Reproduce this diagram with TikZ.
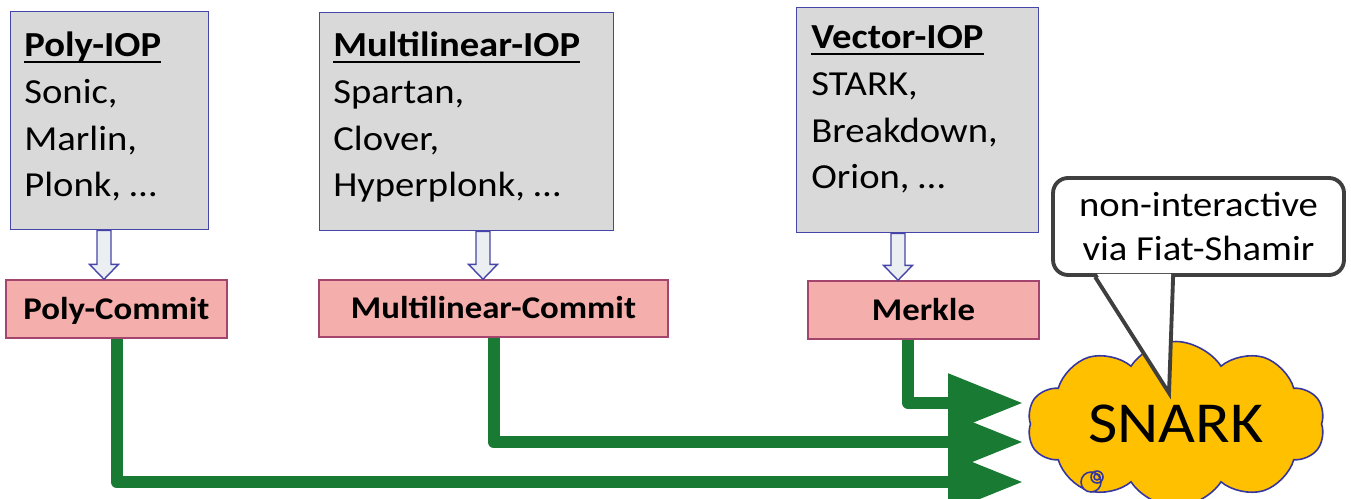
\documentclass[tikz,border=0pt]{standalone}
\usepackage{fontspec}
\setmainfont{Carlito}[FakeStretch=1.1]
\usetikzlibrary{arrows.meta,calc,shapes.symbols}

\definecolor{iopgray}{HTML}{D9D9D9}
\definecolor{iopline}{HTML}{4646AA}
\definecolor{pcpink}{HTML}{F4AEAB}
\definecolor{pcline}{HTML}{A3456C}
\definecolor{hollowfill}{HTML}{ECEFF1}
\definecolor{feedgreen}{HTML}{197A33}
\definecolor{snarkgold}{HTML}{FFC000}
\definecolor{cloudline}{HTML}{3535A0}
\definecolor{noteline}{HTML}{3F3F3F}

% bold title with a heavy underline
\newlength{\titlew}
\newcommand{\ioptitle}[1]{\settowidth{\titlew}{\textbf{#1}}\textbf{#1}\hspace{-\titlew}\rule[-3.4pt]{\titlew}{1.1pt}}

\tikzset{
  iopbox/.style={draw=iopline, fill=iopgray, line width=0.8pt, anchor=north west, inner sep=0},
  % base of a list is its last line
  ioptext/.style={anchor=base west, inner sep=0, align=left, font=\fontsize{20}{26.65}\selectfont},
  commitbox/.style={draw=pcline, fill=pcpink, line width=0.8pt, inner sep=0, text height=11.6pt, text depth=0pt,
    font=\bfseries\fontsize{18}{22}\selectfont},
  compilearrow/.style={draw=iopline, fill=hollowfill, line width=0.8pt,
    to path={($(\tikztostart)+(-7,0)$) -- ($(\tikztotarget)+(-7,-15)$) -- ($(\tikztotarget)+(-14.5,-15)$)
      -- (\tikztotarget) -- ($(\tikztotarget)+(14.5,-15)$) -- ($(\tikztotarget)+(7,-15)$)
      -- ($(\tikztostart)+(7,0)$) -- cycle}},
  feedline/.style={draw=feedgreen, line width=0.24cm, line join=round, -{Triangle[length=1.5cm,width=1.12cm]}},
  snarkcloud/.style={cloud, cloud puffs=10, cloud puff arc=115, cloud ignores aspect, draw=cloudline, fill=snarkgold,
    line width=0.9pt, minimum width=5.95cm, minimum height=3.3cm, inner sep=0, font=\fontsize{33}{36}\selectfont},
  fsnote/.style={draw=noteline, fill=white, line width=2.2pt, rounded corners=0.3cm, minimum width=5.82cm,
    minimum height=1.94cm, align=center, inner sep=0, font=\fontsize{20}{25.5}\selectfont}
}

\begin{document}
\begin{tikzpicture}[x=0.02cm, y=-0.02cm]
\useasboundingbox (0,0) rectangle (1351,499);

% the three IOP families
\node[iopbox, minimum width=3.96cm, minimum height=4.36cm] (iopA) at (10,11) {};
\node[iopbox, minimum width=5.88cm, minimum height=4.36cm] (iopB) at (319,12) {};
\node[iopbox, minimum width=4.84cm, minimum height=4.5cm] (iopC) at (796,7) {};
\node[ioptext] (txtA) at (24,197) {\ioptitle{Poly-IOP}\\Sonic,\\Marlin,\\Plonk, …};
\node[ioptext] (txtB) at (333,197) {\ioptitle{Multilinear-IOP}\\Spartan,\\Clover,\\Hyperplonk, …};
\node[ioptext] (txtC) at (811,189) {\ioptitle{Vector-IOP}\\STARK,\\Breakdown,\\Orion, …};

% commitment schemes
\node[commitbox, minimum width=4.42cm, minimum height=1.16cm] (pcA) at (116.5,309) {Poly-Commit};
\node[commitbox, minimum width=6.98cm, minimum height=1.14cm] (pcB) at (493.5,308.5) {Multilinear-Commit};
\node[commitbox, minimum width=4.62cm, minimum height=1.16cm] (pcC) at (923.5,310) {Merkle};

\coordinate (dnA) at (104,0);
\coordinate (dnB) at (483,0);
\coordinate (dnC) at (898,0);
\draw[compilearrow] (iopA.south -| dnA) to (pcA.north -| dnA);
\draw[compilearrow] (iopB.south -| dnB) to (pcB.north -| dnB);
\draw[compilearrow] (iopC.south -| dnC) to (pcC.north -| dnC);

% everything ends in the SNARK
\coordinate (inA) at (1023,482);
\coordinate (inB) at (1023,442);
\coordinate (inC) at (1023,403);
\draw[feedline] (pcA.south) |- (inA);
\draw[feedline] (pcB.south) |- (inB);
\draw[feedline] ([xshift=-0.31cm]pcC.south) |- (inC);

\node[snarkcloud] (snark) at (1176,424) {SNARK};
\draw[cloudline, fill=snarkgold, line width=0.9pt] (1091,482) circle (0.2cm);
\draw[cloudline, line width=0.9pt] (1097,477) circle (0.12cm) (1097,477) circle (0.06cm);

% Fiat-Shamir remark
\node[fsnote] (fs) at (1198.5,226.5) {non-interactive\\via Fiat-Shamir};
\coordinate (fstip) at (1169,393);
\fill[white] ($(fs.south west)+(46,-3)$) -- (fstip) -- ($(fs.south west)+(120,-3)$) -- cycle;
\draw[noteline, line width=2.2pt] ($(fs.south west)+(44,0)$) -- (fstip) -- ($(fs.south west)+(122,0)$);
\end{tikzpicture}
\end{document}
